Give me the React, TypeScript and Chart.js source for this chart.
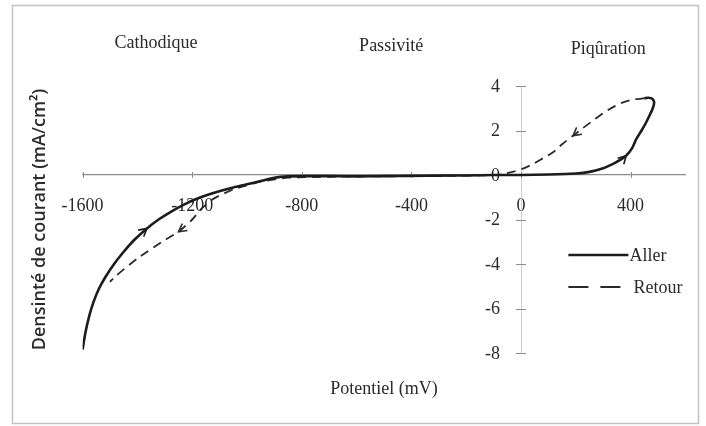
import React, { useEffect, useRef } from 'react';
import { Chart, registerables } from 'chart.js';

Chart.register(...registerables);

// ---- data ----
const X_TICKS = [-1600, -1200, -800, -400, 0, 400];
const Y_TICKS = [-8, -6, -4, -2, 0, 2, 4];

const SERIES_LABELS = ['Aller', 'Retour'];

const ALLER_X = [-1600, -1590, -1575, -1560, -1540, -1515, -1485, -1450, -1410, -1365, -1320, -1275, -1230, -1190, -1140, -1095, -1050, -1000, -950, -900, -850, -800, -700, -600, -500, -400, -300, -200, -100, 0, 100, 200, 250, 300, 336, 365, 384, 405, 421, 440, 457, 472, 481, 486, 480, 465, 450];
const ALLER_Y = [-7.85, -7.1, -6.3, -5.7, -5.1, -4.55, -4.0, -3.45, -2.9, -2.4, -1.98, -1.63, -1.33, -1.1, -0.88, -0.71, -0.56, -0.42, -0.27, -0.12, -0.06, -0.05, -0.05, -0.06, -0.05, -0.04, -0.03, -0.02, 0, 0, 0.02, 0.07, 0.14, 0.3, 0.5, 0.7, 0.87, 1.2, 1.62, 2.0, 2.37, 2.75, 3.0, 3.25, 3.42, 3.47, 3.45];

const RETOUR_X = [450, 409, 370, 336, 300, 263, 225, 190, 150, 117, 80, 45, 10, -28, -76, -150, -300, -500, -700, -850, -950, -1050, -1120, -1165, -1200, -1250, -1310, -1400, -1480, -1500];
const RETOUR_Y = [3.45, 3.39, 3.25, 3.05, 2.78, 2.45, 2.1, 1.77, 1.38, 1.02, 0.75, 0.5, 0.3, 0.15, 0.02, -0.02, -0.04, -0.06, -0.08, -0.12, -0.3, -0.65, -1.05, -1.5, -2.0, -2.55, -3.0, -3.75, -4.55, -4.8];

// direction arrows sitting on the curves (data units)
const ARROW_ALLER_X = [-1365, 384];
const ARROW_ALLER_Y = [-2.4, 0.87];
const ARROW_RETOUR_X = [190, -1250];
const ARROW_RETOUR_Y = [1.77, -2.55];

const REGION_LABELS = ['Cathodique', 'Passivité', 'Piqûration'];
const REGION_X = [-1332, -474, 318];

const X_TITLE = 'Potentiel (mV)';
const Y_TITLE = 'Densinté de courant (mA/cm²)';

const SERIF = '"Liberation Serif", "Times New Roman", serif';
const SANS = '"Open Sans", "Liberation Sans", sans-serif';
const TEXT = '#2b2b2b';

const toPoints = (xs: number[], ys: number[]) => xs.map((x, i) => ({ x, y: ys[i] }));

const decorPlugin = {
  id: 'decor',
  beforeDraw(chart: any) {
    const { ctx } = chart;
    ctx.save();
    ctx.fillStyle = '#ffffff';
    ctx.fillRect(0, 0, chart.width, chart.height);
    ctx.strokeStyle = '#c4c4c4';
    ctx.lineWidth = 1.5;
    ctx.strokeRect(12.5, 5.5, 686, 418);
    ctx.restore();
  },
  beforeDatasetsDraw(chart: any) {
    const { ctx, scales } = chart;
    const xs = scales.x, ys = scales.y;
    const x0 = xs.getPixelForValue(0);
    const y0 = ys.getPixelForValue(0);
    ctx.save();
    ctx.strokeStyle = '#8c8c8c';
    ctx.lineWidth = 1;
    X_TICKS.forEach((v) => {
      const px = Math.round(xs.getPixelForValue(v)) + 0.5;
      ctx.beginPath();
      ctx.moveTo(px, y0 - 3);
      ctx.lineTo(px, y0 + 3);
      ctx.stroke();
    });
    Y_TICKS.forEach((v) => {
      const py = Math.round(ys.getPixelForValue(v)) + 0.5;
      ctx.beginPath();
      ctx.moveTo(x0 - 5, py);
      ctx.lineTo(x0 + 5, py);
      ctx.stroke();
    });
    // y tick labels (left of the centred axis)
    ctx.fillStyle = TEXT;
    ctx.font = `18px ${SERIF}`;
    ctx.textAlign = 'right';
    ctx.textBaseline = 'middle';
    Y_TICKS.forEach((v) => {
      ctx.fillText(String(v), x0 - 21, ys.getPixelForValue(v) + 1);
    });
    ctx.restore();
  },
  afterDraw(chart: any) {
    const { ctx, scales, chartArea } = chart;
    const xs = scales.x;
    ctx.save();
    // region labels
    ctx.fillStyle = TEXT;
    ctx.font = `18px ${SERIF}`;
    ctx.textAlign = 'center';
    ctx.textBaseline = 'middle';
    const offs = [43, 40, 37];
    REGION_LABELS.forEach((t, i) => {
      ctx.fillText(t, xs.getPixelForValue(REGION_X[i]), chartArea.top - offs[i]);
    });
    // x title
    ctx.fillText(X_TITLE, (chartArea.left + chartArea.right) / 2, chartArea.bottom + 36);
    // y title
    ctx.save();
    ctx.translate(40, (chartArea.top + chartArea.bottom) / 2);
    ctx.rotate(-Math.PI / 2);
    ctx.font = `600 18px ${SANS}`;
    ctx.fillText(Y_TITLE, 0, 0);
    ctx.restore();

    // arrows
    const drawArrows = (dsIndex: number, ax: number[], ay: number[]) => {
      const meta = chart.getDatasetMeta(dsIndex);
      const pts = meta.data;
      const color = chart.data.datasets[dsIndex].borderColor;
      ax.forEach((vx, k) => {
        const px = xs.getPixelForValue(vx);
        const py = scales.y.getPixelForValue(ay[k]);
        let best = 0, bd = Infinity;
        pts.forEach((p: any, i: number) => {
          const d = (p.x - px) ** 2 + (p.y - py) ** 2;
          if (d < bd) { bd = d; best = i; }
        });
        const a = pts[Math.max(0, best - 1)];
        const b = pts[Math.min(pts.length - 1, best + 1)];
        const ang = Math.atan2(b.y - a.y, b.x - a.x);
        const L = 9;
        ctx.strokeStyle = color;
        ctx.lineWidth = 1.6;
        ctx.setLineDash([]);
        ctx.beginPath();
        ctx.moveTo(px + L * Math.cos(ang + Math.PI - 0.5), py + L * Math.sin(ang + Math.PI - 0.5));
        ctx.lineTo(px, py);
        ctx.lineTo(px + L * Math.cos(ang + Math.PI + 0.5), py + L * Math.sin(ang + Math.PI + 0.5));
        ctx.stroke();
      });
    };
    drawArrows(0, ARROW_ALLER_X, ARROW_ALLER_Y);
    drawArrows(1, ARROW_RETOUR_X, ARROW_RETOUR_Y);

    // legend
    const lx = chartArea.right - 117;
    const rows = [chartArea.top + 169, chartArea.top + 201];
    chart.data.datasets.forEach((ds: any, i: number) => {
      const y = rows[i];
      ctx.strokeStyle = ds.borderColor;
      ctx.lineWidth = i === 0 ? 2.5 : 2.2;
      ctx.setLineDash(i === 0 ? [] : [20, 12]);
      ctx.beginPath();
      ctx.moveTo(lx, y);
      ctx.lineTo(lx + (i === 0 ? 60 : 52), y);
      ctx.stroke();
      ctx.setLineDash([]);
      ctx.fillStyle = TEXT;
      ctx.font = `18px ${SERIF}`;
      ctx.textAlign = 'left';
      ctx.textBaseline = 'middle';
      ctx.fillText(ds.label, lx + (i === 0 ? 61 : 65), y + 1);
    });
    ctx.restore();
  },
};

export default function App() {
  const ref = useRef<HTMLCanvasElement | null>(null);

  useEffect(() => {
    if (!ref.current) return;
    const chart = new Chart(ref.current, {
      type: 'scatter',
      data: {
        datasets: [
          {
            label: SERIES_LABELS[0],
            data: toPoints(ALLER_X, ALLER_Y),
            showLine: true,
            borderColor: '#1c1c1c',
            backgroundColor: '#1c1c1c',
            borderWidth: 2.6,
            pointRadius: 0,
            tension: 0.2,
          },
          {
            label: SERIES_LABELS[1],
            data: toPoints(RETOUR_X, RETOUR_Y),
            showLine: true,
            borderColor: '#2a2a2a',
            backgroundColor: '#2a2a2a',
            borderWidth: 1.8,
            borderDash: [9, 6],
            pointRadius: 0,
            tension: 0.2,
          },
        ],
      },
      options: {
        animation: false,
        responsive: false,
        maintainAspectRatio: false,
        layout: { padding: { left: 82.6, right: 20.6, top: 86, bottom: 73 } },
        plugins: {
          legend: { display: false },
          tooltip: { enabled: false },
          title: { display: false },
        },
        scales: {
          x: {
            type: 'linear',
            min: -1600,
            max: 600,
            position: { y: 0 },
            afterBuildTicks: (s: any) => {
              s.ticks = X_TICKS.map((v) => ({ value: v }));
            },
            grid: { display: false, drawTicks: false },
            border: { display: true, color: '#8c8c8c', width: 1.2 },
            ticks: {
              padding: 20,
              maxRotation: 0,
              autoSkip: false,
              color: TEXT,
              font: { family: SERIF, size: 18 },
              callback: (v: any) => String(v),
            },
          },
          y: {
            type: 'linear',
            min: -8,
            max: 4,
            position: { x: 0 },
            afterBuildTicks: (s: any) => {
              s.ticks = Y_TICKS.map((v) => ({ value: v }));
            },
            grid: { display: false, drawTicks: false },
            border: { display: true, color: '#cfcfcf', width: 1, dash: [3, 3] },
            ticks: { display: false },
          },
        },
      },
      plugins: [decorPlugin],
    } as any);
    return () => chart.destroy();
  }, []);

  return (
    <div style={{ position: 'fixed', left: 0, top: 0, width: 706, height: 426, background: '#fff' }}>
      <canvas ref={ref} width={706} height={426} style={{ display: 'block', width: 706, height: 426 }} />
    </div>
  );
}
